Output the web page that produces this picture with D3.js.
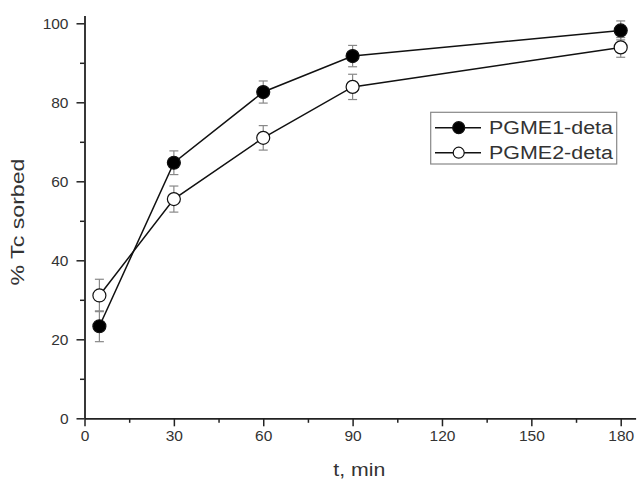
<!DOCTYPE html>
<html>
<head>
<meta charset="utf-8">
<script src="https://cdn.jsdelivr.net/npm/d3@7"></script>
<style>
  body { margin: 0; background: #fff; }
  text { font-family: "Liberation Sans", Arial, Helvetica, sans-serif; fill: #333; }
</style>
</head>
<body>
<div id="plot"></div>
<script>
// time points (min)
const times = [5, 30, 60, 90, 180];

// % Tc sorbed with error
const pgme1 = [23.3, 64.7, 82.6, 91.7, 98.2];
const pgme1Err = [3.9, 3.0, 2.8, 2.7, 2.4];
const pgme2 = [31.1, 55.5, 71.0, 83.9, 93.9];
const pgme2Err = [4.1, 3.3, 3.1, 3.2, 2.5];

const seriesNames = ["PGME1-deta", "PGME2-deta"];
const xTicks = [0, 30, 60, 90, 120, 150, 180];
const yTicks = [0, 20, 40, 60, 80, 100];

const W = 637, H = 483;

const svg = d3.select("#plot").append("svg")
  .attr("width", W)
  .attr("height", H);

// scales
const xScale = d3.scaleLinear().domain([0, 185]).range([84.5, 635.6]);
const yScale = d3.scaleLinear().domain([0, 102]).range([418.3, 15.4]);

const series = [
  { name: seriesNames[0], vals: pgme1, err: pgme1Err, fill: "#000" },
  { name: seriesNames[1], vals: pgme2, err: pgme2Err, fill: "#fff" }
];

// axes
const xAxis = svg.append("g")
  .attr("transform", "translate(0," + yScale(0) + ")")
  .call(d3.axisBottom(xScale).tickValues(xTicks).tickSize(8).tickPadding(4).tickSizeOuter(0));
const xMinor = svg.append("g")
  .attr("transform", "translate(0," + yScale(0) + ")")
  .call(d3.axisBottom(xScale).tickValues(d3.range(15, 180, 30)).tickSize(4.5).tickFormat("").tickSizeOuter(0));

const yAxis = svg.append("g")
  .attr("transform", "translate(" + xScale(0) + ",0)")
  .call(d3.axisLeft(yScale).tickValues(yTicks).tickSize(8).tickPadding(8).tickSizeOuter(0));
const yMinor = svg.append("g")
  .attr("transform", "translate(" + xScale(0) + ",0)")
  .call(d3.axisLeft(yScale).tickValues(d3.range(10, 100, 20)).tickSize(4.5).tickFormat("").tickSizeOuter(0));

[xAxis, xMinor, yAxis, yMinor].forEach(g => {
  g.select(".domain").attr("stroke", "#222").attr("stroke-width", 1.8);
  g.selectAll(".tick line").attr("stroke", "#222").attr("stroke-width", 1.5);
  g.selectAll("text").attr("font-size", 15.5).attr("fill", "#333")
    .style("font-family", "'Liberation Sans', Arial, sans-serif");
});
xMinor.select(".domain").remove();
yMinor.select(".domain").remove();

// axis titles
svg.append("text")
  .attr("x", (333 + 385.7) / 2).attr("y", 476)
  .attr("text-anchor", "middle")
  .attr("font-size", 18)
  .attr("textLength", 52).attr("lengthAdjust", "spacingAndGlyphs")
  .text("t, min");

svg.append("text")
  .attr("transform", "translate(24," + 222 + ") rotate(-90)")
  .attr("text-anchor", "middle")
  .attr("font-size", 18)
  .attr("textLength", 127).attr("lengthAdjust", "spacingAndGlyphs")
  .text("% Tc sorbed");

const line = d3.line()
  .x((d, i) => xScale(times[i]))
  .y(d => yScale(d));

series.forEach(s => {
  svg.append("path")
    .datum(s.vals)
    .attr("d", line)
    .attr("fill", "none")
    .attr("stroke", "#111")
    .attr("stroke-width", 1.5);

  const eb = svg.append("g").attr("stroke", "#888").attr("stroke-width", 1.2);
  s.vals.forEach((v, i) => {
    const cx = xScale(times[i]);
    const top = yScale(v + s.err[i]), bot = yScale(v - s.err[i]);
    eb.append("line").attr("x1", cx).attr("x2", cx).attr("y1", top).attr("y2", bot);
    eb.append("line").attr("x1", cx - 4.5).attr("x2", cx + 4.5).attr("y1", top).attr("y2", top);
    eb.append("line").attr("x1", cx - 4.5).attr("x2", cx + 4.5).attr("y1", bot).attr("y2", bot);
  });
});

series.forEach(s => {
  svg.append("g").selectAll("circle")
    .data(s.vals)
    .join("circle")
    .attr("cx", (d, i) => xScale(times[i]))
    .attr("cy", d => yScale(d))
    .attr("r", 6.5)
    .attr("fill", s.fill)
    .attr("stroke", "#111")
    .attr("stroke-width", 1.2);
});

// legend
const legend = svg.append("g");
legend.append("rect")
  .attr("x", 430.7).attr("y", 112.3)
  .attr("width", 186).attr("height", 51.7)
  .attr("fill", "#fff")
  .attr("stroke", "#888")
  .attr("stroke-width", 1.2);

series.forEach((s, i) => {
  const ly = 127.7 + i * 25;
  legend.append("line")
    .attr("x1", 435).attr("x2", 481).attr("y1", ly).attr("y2", ly)
    .attr("stroke", "#111").attr("stroke-width", 1.5);
  legend.append("circle")
    .attr("cx", 458.7).attr("cy", ly).attr("r", i === 0 ? 6 : 5.5)
    .attr("fill", s.fill).attr("stroke", "#111").attr("stroke-width", 1.2);
  legend.append("text")
    .attr("x", 489).attr("y", ly + 6)
    .attr("font-size", 18)
    .attr("textLength", 124).attr("lengthAdjust", "spacingAndGlyphs")
    .text(s.name);
});
</script>
</body>
</html>
